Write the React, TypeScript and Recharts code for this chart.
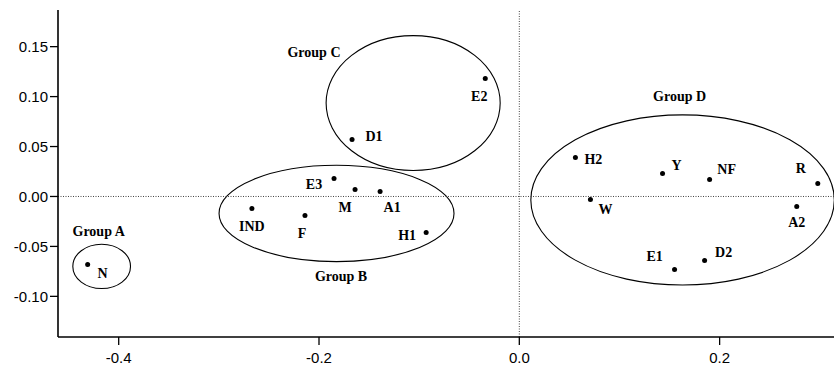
import React from "react";
import {
  ScatterChart,
  Scatter,
  XAxis,
  YAxis,
  ReferenceLine,
  ReferenceArea,
} from "recharts";

// sample points (dimension 1 / dimension 2)
const pointNames = ["N", "IND", "F", "E3", "M", "A1", "H1", "D1", "E2", "H2", "W", "Y", "NF", "R", "A2", "E1", "D2"];
const dim1 = [-0.431, -0.267, -0.214, -0.185, -0.164, -0.139, -0.093, -0.167, -0.034, 0.056, 0.071, 0.143, 0.190, 0.298, 0.277, 0.155, 0.185];
const dim2 = [-0.068, -0.012, -0.019, 0.018, 0.007, 0.005, -0.036, 0.057, 0.118, 0.039, -0.003, 0.023, 0.017, 0.013, -0.010, -0.073, -0.064];

// group ellipses
const groupNames = ["Group A", "Group B", "Group C", "Group D"];
const groupCenterX = [-0.417, -0.1825, -0.106, 0.163];
const groupCenterY = [-0.070, -0.017, 0.0935, -0.0035];
const groupSpreadX = [0.0288, 0.1173, 0.0869, 0.1515];
const groupSpreadY = [0.0222, 0.0482, 0.0675, 0.0852];
const groupLabelX = [-0.420, -0.178, -0.205, 0.160];
const groupLabelY = [-0.035, -0.080, 0.144, 0.100];

const xTicks = [-0.4, -0.2, 0, 0.2];
const yTicks = [-0.1, -0.05, 0, 0.05, 0.1, 0.15];
const xDomain = [-0.4606, 0.3142];
const yDomain = [-0.1407, 0.1867];

// label placement relative to the dot, in px
const labelOffset: Record<string, [number, number]> = {
  N: [15, 9], IND: [0, 18], F: [-3, 18], E3: [-20, 6], M: [-10, 18], A1: [12, 16],
  H1: [-19, 3], D1: [22, -3], E2: [-6, 18], H2: [18, 2], W: [15, 10], Y: [14, -8],
  NF: [17, -10], R: [-17, -15], A2: [0, 16], E1: [-20, -13], D2: [19, -8],
};

const points = pointNames.map((name, i) => ({ name, x: dim1[i], y: dim2[i] }));
const groupTags = groupNames.map((name, i) => ({ name, x: groupLabelX[i], y: groupLabelY[i] }));

const serif = "'Liberation Serif', 'Times New Roman', serif";
const sans = "'Liberation Sans', Arial, sans-serif";

const PointShape = (props: any) => {
  const { cx, cy, payload } = props;
  const [dx, dy] = labelOffset[payload.name] || [0, 0];
  return (
    <g>
      <circle cx={cx} cy={cy} r={2.5} fill="#000" />
      <text
        x={cx + dx}
        y={cy + dy}
        textAnchor="middle"
        dominantBaseline="central"
        fontFamily={serif}
        fontWeight="bold"
        fontSize={14}
        fill="#000"
      >
        {payload.name}
      </text>
    </g>
  );
};

const GroupTag = (props: any) => {
  const { cx, cy, payload } = props;
  return (
    <text
      x={cx}
      y={cy}
      textAnchor="middle"
      dominantBaseline="central"
      fontFamily={serif}
      fontWeight="bold"
      fontSize={14}
      fill="#000"
    >
      {payload.name}
    </text>
  );
};

const EllipseShape = (props: any) => {
  const { x, y, width, height } = props;
  return (
    <ellipse
      cx={x + width / 2}
      cy={y + height / 2}
      rx={Math.abs(width) / 2}
      ry={Math.abs(height) / 2}
      fill="none"
      stroke="#000"
      strokeWidth={1.1}
    />
  );
};

export default function App() {
  return (
    <div style={{ position: "absolute", left: 0, top: 0, background: "#fff" }}>
      <ScatterChart width={834} height={367} margin={{ top: 10, right: 0, bottom: 0, left: 0 }}>
        <XAxis
          xAxisId="top"
          orientation="top"
          type="number"
          dataKey="x"
          domain={xDomain}
          allowDataOverflow
          height={0}
          tick={false}
          tickLine={false}
          axisLine={{ stroke: "#000", strokeWidth: 1.6 }}
        />
        <XAxis
          type="number"
          dataKey="x"
          domain={xDomain}
          allowDataOverflow
          ticks={xTicks}
          tickFormatter={(v: number) => v.toFixed(1)}
          height={30}
          tickSize={8}
          tickMargin={7}
          axisLine={{ stroke: "#000", strokeWidth: 1.6 }}
          tickLine={{ stroke: "#000", strokeWidth: 1.3 }}
          tick={{ fill: "#000", fontSize: 15, fontFamily: sans }}
        />
        <YAxis
          type="number"
          dataKey="y"
          domain={yDomain}
          allowDataOverflow
          ticks={yTicks}
          tickFormatter={(v: number) => v.toFixed(2)}
          width={58}
          tickSize={8}
          tickMargin={2}
          axisLine={{ stroke: "#000", strokeWidth: 1.6 }}
          tickLine={{ stroke: "#000", strokeWidth: 1.3 }}
          tick={{ fill: "#000", fontSize: 15, fontFamily: sans }}
        />
        <ReferenceLine x={0} stroke="#444" strokeDasharray="1 1.5" strokeWidth={1} />
        <ReferenceLine y={0} stroke="#444" strokeDasharray="1 1.5" strokeWidth={1} />
        {groupNames.map((g, i) => (
          <ReferenceArea
            key={g}
            x1={groupCenterX[i] - groupSpreadX[i]}
            x2={groupCenterX[i] + groupSpreadX[i]}
            y1={groupCenterY[i] - groupSpreadY[i]}
            y2={groupCenterY[i] + groupSpreadY[i]}
            ifOverflow="visible"
            shape={EllipseShape}
          />
        ))}
        <Scatter data={points} shape={PointShape} isAnimationActive={false} />
        <Scatter data={groupTags} shape={GroupTag} isAnimationActive={false} />
      </ScatterChart>
    </div>
  );
}
